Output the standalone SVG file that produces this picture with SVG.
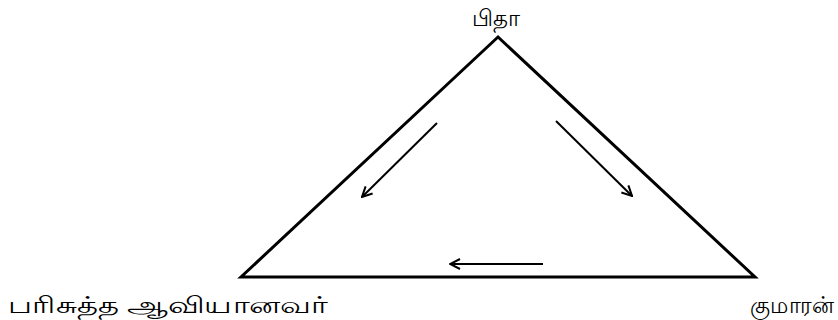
<svg xmlns="http://www.w3.org/2000/svg" width="838" height="320" viewBox="0 0 838 320">
<style>
text{font-family:"Noto Sans","Liberation Sans","Noto Sans CJK SC",sans-serif;font-size:23px;fill:#000}
.edge{stroke:#000;stroke-width:3;fill:none;stroke-linejoin:miter}
.arr{stroke:#000;stroke-width:2;fill:none;marker-end:url(#ah)}
</style>
<defs>
<marker id="ah" viewBox="0 0 12 12" refX="11" refY="6" markerWidth="12" markerHeight="12" markerUnits="userSpaceOnUse" orient="auto">
<polyline points="1,1 11,6 1,11" fill="none" stroke="#000" stroke-width="2"/>
</marker>
</defs>
<rect width="838" height="320" fill="#fff"/>
<g id="triangle">
<polygon class="edge" points="498,37 241,277 755,277"/>
</g>
<g id="connectors">
<line class="arr" x1="437" y1="123" x2="362" y2="197"/>
<line class="arr" x1="556" y1="121" x2="632" y2="196"/>
<line class="arr" x1="543" y1="264" x2="450" y2="264"/>
</g>
<g id="pitha"><text x="472" y="26" textLength="48" lengthAdjust="spacingAndGlyphs">பிதா</text></g>
<g id="parisuttha"><text x="8" y="313" textLength="320" lengthAdjust="spacingAndGlyphs">பரிசுத்த  ஆவியானவர்</text></g>
<g id="kumaran"><text x="750" y="313" textLength="84" lengthAdjust="spacingAndGlyphs">குமாரன்</text></g>
</svg>
